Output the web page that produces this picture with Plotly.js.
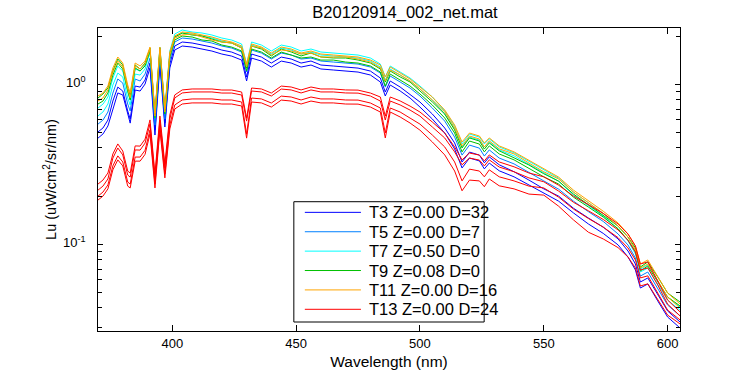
<!DOCTYPE html>
<html>
<head>
<meta charset="utf-8">
<script src="https://cdn.plot.ly/plotly-3.0.1.min.js"></script>
<style>html,body{margin:0;padding:0;background:#fff;}#chart{width:750px;height:375px;}</style>
</head>
<body>
<div id="chart"></div>
<script>
const wavelength = [370,372,374,376,378,380,382,383,385,387,389,391,393,395,397,399,401,404,408,412,416,420,424,428,430,432,436,440,444,448,452,456,460,465,470,475,480,484,486,488,492,496,500,505,510,514,517,520,524,526,528,532,538,544,550,556,562,568,574,580,584,587,589,592,596,600,605];

const t3a = [.504,.533,.598,.786,.961,.908,.681,.607,.976,.961,1.064,1.359,.518,1.398,.573,1.339,1.735,1.838,1.812,1.760,1.710,1.637,1.590,1.502,1.111,1.546,1.480,1.358,1.480,1.439,1.358,1.398,1.320,1.301,1.282,1.263,1.210,1.095,.895,1.049,.962,.869,.775,.652,.533,.430,.327,.377,.361,.323,.352,.314,.284,.252,.222,.200,.168,.146,.128,.108,.0908,.0753,.0581,.0616,.0482,.0383,.0327];
const t3b = [.461,.489,.549,.710,.883,.858,.643,.572,.921,.908,1.004,1.265,.482,1.320,.541,1.265,1.638,1.735,1.710,1.662,1.614,1.546,1.501,1.418,1.049,1.459,1.397,1.282,1.397,1.359,1.282,1.320,1.247,1.229,1.211,1.193,1.143,1.034,.845,.990,.909,.821,.721,.607,.496,.394,.300,.346,.332,.296,.322,.288,.264,.235,.207,.186,.157,.134,.117,.0991,.0833,.0691,.0533,.0565,.0443,.0351,.0300];
const t5a = [.564,.598,.671,.882,1.080,1.019,.753,.681,1.079,1.049,1.159,1.459,.556,1.503,.606,1.418,1.838,1.947,1.919,1.865,1.811,1.735,1.685,1.591,1.194,1.638,1.568,1.439,1.568,1.525,1.439,1.459,1.398,1.378,1.358,1.338,1.282,1.176,.961,1.127,1.034,.948,.845,.711,.589,.468,.361,.417,.399,.356,.389,.346,.318,.283,.249,.221,.186,.160,.139,.116,.0990,.0821,.0633,.0671,.0526,.0417,.0357];
const t7a = [.711,.752,.833,1.095,1.300,1.211,.895,.797,1.246,1.211,1.320,1.662,.643,1.711,.701,1.615,2.063,2.185,2.124,2.093,2.033,1.947,1.891,1.786,1.340,1.838,1.760,1.615,1.760,1.711,1.615,1.662,1.592,1.569,1.547,1.524,1.460,1.339,1.111,1.301,1.194,1.095,.976,.833,.681,.549,.424,.489,.468,.424,.456,.406,.373,.331,.292,.259,.212,.182,.156,.130,.111,.0921,.0701,.0743,.0590,.0468,.0406];
const t7b = [.634,.671,.753,.990,1.176,1.112,.821,.742,1.159,1.142,1.246,1.591,.615,1.615,.662,1.525,1.976,2.093,2.064,2.005,1.948,1.865,1.812,1.711,1.284,1.761,1.686,1.547,1.686,1.639,1.547,1.592,1.525,1.503,1.482,1.460,1.399,1.283,1.064,1.246,1.144,1.049,.935,.798,.652,.526,.406,.468,.448,.406,.436,.389,.357,.317,.279,.248,.203,.174,.150,.125,.105,.0870,.0671,.0711,.0565,.0448,.0388];
const t9a = [.821,.870,.949,1.211,1.440,1.321,.948,.857,1.321,1.246,1.359,1.686,.643,1.686,.681,1.547,1.976,2.093,2.033,2.005,1.919,1.838,1.812,1.686,1.265,1.735,1.661,1.504,1.661,1.593,1.504,1.569,1.482,1.461,1.460,1.419,1.359,1.247,1.033,1.211,1.112,1.034,.909,.776,.652,.519,.400,.462,.442,.394,.430,.384,.347,.313,.276,.248,.206,.177,.152,.130,.111,.0949,.0721,.0776,.0625,.0496,.0436];
const t9b = [.753,.786,.882,1.143,1.358,1.246,.908,.797,1.265,1.211,1.302,1.615,.615,1.615,.652,1.481,1.892,2.004,1.975,1.892,1.864,1.760,1.709,1.615,1.211,1.662,1.591,1.460,1.591,1.525,1.460,1.481,1.418,1.418,1.378,1.358,1.301,1.193,.976,1.159,1.064,.976,.870,.742,.616,.496,.378,.442,.423,.378,.412,.367,.337,.299,.264,.238,.197,.171,.148,.125,.106,.0895,.0681,.0732,.0590,.0468,.0412];
const t11a = [.845,.882,.976,1.264,1.481,1.359,.990,.882,1.359,1.301,1.398,1.711,.662,1.711,.701,1.592,2.005,2.124,2.094,2.034,1.976,1.892,1.838,1.736,1.340,1.787,1.711,1.570,1.711,1.663,1.570,1.615,1.547,1.525,1.504,1.481,1.419,1.320,1.111,1.283,1.177,1.080,.962,.833,.691,.557,.436,.496,.475,.430,.462,.412,.378,.336,.296,.263,.218,.187,.161,.136,.116,.0976,.0753,.0798,.0625,.0496,.0424];
const t11b = [.787,.821,.921,1.193,1.398,1.283,.935,.821,1.302,1.246,1.339,1.662,.633,1.662,.671,1.525,1.947,2.034,2.063,1.976,1.893,1.838,1.812,1.686,1.284,1.735,1.686,1.525,1.639,1.615,1.547,1.569,1.482,1.481,1.482,1.439,1.378,1.264,1.049,1.228,1.144,1.049,.935,.798,.672,.534,.412,.475,.455,.406,.443,.395,.367,.322,.284,.256,.212,.182,.156,.130,.111,.0921,.0711,.0753,.0590,.0468,.0400];
const t13a = [.238,.252,.279,.367,.424,.383,.287,.279,.412,.411,.454,.599,.275,.633,.317,.643,.858,.922,.935,.933,.935,.921,.921,.895,.615,.948,.935,.882,.975,.962,.922,.962,.935,.935,.922,.920,.882,.833,.633,.833,.787,.731,.671,.581,.496,.406,.337,.372,.361,.332,.362,.327,.305,.279,.264,.234,.200,.177,.156,.134,.116,.0976,.0753,.0776,.0590,.0448,.0378];
const t13b = [.218,.231,.256,.346,.400,.362,.271,.263,.389,.388,.429,.565,.260,.598,.299,.607,.822,.883,.896,.894,.896,.882,.882,.857,.589,.908,.896,.845,.934,.922,.883,.922,.896,.896,.883,.881,.845,.786,.598,.786,.743,.690,.633,.541,.462,.378,.314,.346,.336,.309,.337,.304,.284,.260,.246,.215,.183,.162,.143,.123,.106,.0895,.0691,.0712,.0557,.0423,.0357];
const t13c = [.200,.212,.235,.309,.357,.327,.245,.238,.351,.351,.387,.519,.238,.548,.275,.557,.743,.798,.810,.808,.810,.798,.798,.775,.488,.821,.810,.764,.844,.833,.798,.833,.810,.810,.798,.797,.764,.711,.496,.711,.671,.615,.564,.482,.406,.327,.249,.295,.287,.264,.292,.264,.249,.231,.225,.197,.166,.145,.128,.110,.0949,.0798,.0616,.0635,.0496,.0388,.0337];
const t13d = [.189,.200,.222,.292,.337,.309,.231,.225,.331,.331,.365,.490,.225,.517,.260,.526,.701,.753,.765,.763,.765,.753,.753,.732,.461,.775,.765,.721,.797,.786,.753,.786,.765,.765,.753,.752,.721,.671,.462,.671,.625,.573,.517,.436,.362,.287,.216,.252,.249,.229,.256,.232,.222,.206,.203,.173,.142,.119,.108,.0953,.0833,.0711,.0549,.0566,.0455,.0361,.0318];

const seriesNames = ['T3 Z=0.00 D=32','T5 Z=0.00 D=7','T7 Z=0.50 D=0','T9 Z=0.08 D=0','T11 Z=0.00 D=16','T13 Z=0.00 D=24'];
const seriesColors = ['#0000ff','#0080ff','#00ffff','#00c000','#ffa500','#ff0000'];
const seriesLines = [[t3a,t3b],[t5a],[t7a,t7b],[t9a,t9b],[t11a,t11b],[t13a,t13b,t13c,t13d]];

const xTicks = [400,450,500,550,600];
const yTicks = [0.1,1];
const yTickText = ['10<sup>-1</sup>','10<sup>0</sup>'];
const yMinor = [0.03,0.04,0.05,0.06,0.07,0.08,0.09,0.2,0.3,0.4,0.5,0.6,0.7,0.8,0.9,2];

const traces = [];
seriesLines.forEach((lines, i) => {
  lines.forEach((ys, j) => {
    traces.push({
      x: wavelength, y: ys, type: 'scatter', mode: 'lines',
      line: {color: seriesColors[i], width: 1},
      name: seriesNames[i], legendgroup: seriesNames[i],
      showlegend: false, hoverinfo: 'skip'
    });
  });
});

const FONT = 'Liberation Sans, Arial, sans-serif';

// legend box drawn in plot-area (paper) coordinates
const legBox = {x0: 0.3365, x1: 0.6635, y0: 0.0297, y1: 0.4267};
const legLineX = [0.3554, 0.4518];
const legTextX = 0.4621;
const legRowTop = 0.3916, legRowStep = 0.0640;

const shapes = [{type: 'rect', xref: 'paper', yref: 'paper', x0: legBox.x0, x1: legBox.x1, y0: legBox.y0, y1: legBox.y1,
                 line: {color: '#000', width: 1}, fillcolor: '#ffffff', layer: 'above'}];
const annotations = [];
seriesNames.forEach((nm, k) => {
  const yy = legRowTop - k * legRowStep;
  shapes.push({type: 'line', xref: 'paper', yref: 'paper', x0: legLineX[0], x1: legLineX[1], y0: yy, y1: yy,
               line: {color: seriesColors[k], width: 1}, layer: 'above'});
  annotations.push({xref: 'paper', yref: 'paper', x: legTextX, y: yy, xanchor: 'left', yanchor: 'middle',
                    text: nm, showarrow: false, font: {family: FONT, size: 16.5, color: '#000'}});
});
// y tick labels (MATLAB-style 10^n), placed on the y axis scale
yTicks.forEach((v, k) => {
  annotations.push({xref: 'paper', yref: 'y', x: -0.018, y: Math.log10(v), xanchor: 'right', yanchor: 'middle',
                    yshift: 2, text: yTickText[k], showarrow: false, font: {family: FONT, size: 13, color: '#000'}});
});

const layout = {
  width: 750, height: 375,
  margin: {l: 98, r: 70, t: 28, b: 44, pad: 0},
  paper_bgcolor: '#ffffff', plot_bgcolor: '#ffffff',
  font: {family: FONT, size: 13, color: '#000'},
  title: {text: 'B20120914_002_net.mat', font: {family: FONT, size: 16.5, color: '#000'},
          xref: 'container', x: 0.54, xanchor: 'center', yref: 'container', y: 0.968, yanchor: 'middle'},
  showlegend: false,
  shapes: shapes,
  annotations: annotations,
  xaxis: {
    range: [370, 605], tickvals: xTicks, ticks: 'inside', ticklen: 6, tickcolor: '#000', tickwidth: 1,
    showline: true, linecolor: '#000', linewidth: 1, mirror: 'ticks', showgrid: false, zeroline: false,
    tickfont: {family: FONT, size: 13, color: '#000'},
    title: {text: 'Wavelength (nm)', font: {family: FONT, size: 15.5, color: '#000'}, standoff: 6},
    automargin: false
  },
  yaxis: {
    type: 'log', range: [-1.542, 0.352], tickvals: yTicks, showticklabels: false,
    ticks: 'inside', ticklen: 5, tickcolor: '#000', tickwidth: 1,
    minor: {tickvals: yMinor, ticks: 'inside', ticklen: 4, tickcolor: '#000', tickwidth: 1, showgrid: false},
    showline: true, linecolor: '#000', linewidth: 1, mirror: 'ticks', showgrid: false, zeroline: false,
    title: {text: 'Lu (uW/cm<sup>2</sup>/sr/nm)', font: {family: FONT, size: 14.5, color: '#000'}, standoff: 36},
    automargin: false
  }
};

Plotly.newPlot('chart', traces, layout, {staticPlot: true, displayModeBar: false});
</script>
</body>
</html>
